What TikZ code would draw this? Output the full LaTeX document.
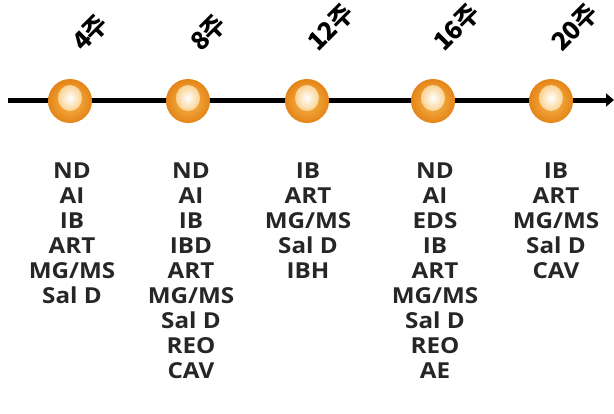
\documentclass[tikz,border=0pt]{standalone}
\usepackage{fontspec}
\setmainfont{Open Sans}
\newfontfamily\krfont{Noto Sans CJK KR}
\usetikzlibrary{arrows.meta,shapes.geometric}
\definecolor{orbedge}{RGB}{228,132,24}
\definecolor{orbmid}{RGB}{251,188,80}
\definecolor{glintedge}{RGB}{250,210,145}
\tikzset{
  axisline/.style={line width=5pt, -{Triangle[length=8pt,width=13pt]}},
  orb/.style={circle, minimum size=44pt, inner sep=0pt, shading=radial,
    inner color=orbmid, outer color=orbedge},
  glint/.style={ellipse, minimum width=24pt, minimum height=26pt, inner sep=0pt,
    shading=radial, inner color=white, outer color=glintedge},
  weeklabel/.style={rotate=45, anchor=base west, inner sep=0pt,
    font=\krfont\fontsize{25}{26}\selectfont\bfseries},
  itemlist/.style={anchor=north, align=center, inner sep=0pt, xscale=1.1,
    font=\fontsize{22}{24.9}\selectfont\bfseries, text=black!85}
}
\begin{document}
\begin{tikzpicture}[x=1pt,y=-1pt]
\useasboundingbox[fill=white] (0,0) rectangle (614,413);
\coordinate (start) at (8,100);
\coordinate (end) at (614,100);
\draw[axisline] (start) -- (end);

\foreach \n/\x in {a/70,b/188,c/307,d/433,e/551}{
  \node[orb] (orb\n) at (\x,101) {};
  \node[glint] (glint\n) at (\x,98) {};
}

\node[weeklabel] (w4)  at (83,53) {4주};
\node[weeklabel] (w8)  at (201,53) {8주};
\node[weeklabel] (w12) at (318,53) {12주};
\node[weeklabel] (w16) at (444,53) {16주};
\node[weeklabel] (w20) at (562,53) {20주};

\node[itemlist] (l4)  at (72,163)  {ND\\AI\\IB\\ART\\MG/MS\\Sal D};
\node[itemlist] (l8)  at (191,163) {ND\\AI\\IB\\IBD\\ART\\MG/MS\\Sal D\\REO\\CAV};
\node[itemlist] (l12) at (308,163) {IB\\ART\\MG/MS\\Sal D\\IBH};
\node[itemlist] (l16) at (435,163) {ND\\AI\\EDS\\IB\\ART\\MG/MS\\Sal D\\REO\\AE};
\node[itemlist] (l20) at (556,163) {IB\\ART\\MG/MS\\Sal D\\CAV};
\end{tikzpicture}
\end{document}
